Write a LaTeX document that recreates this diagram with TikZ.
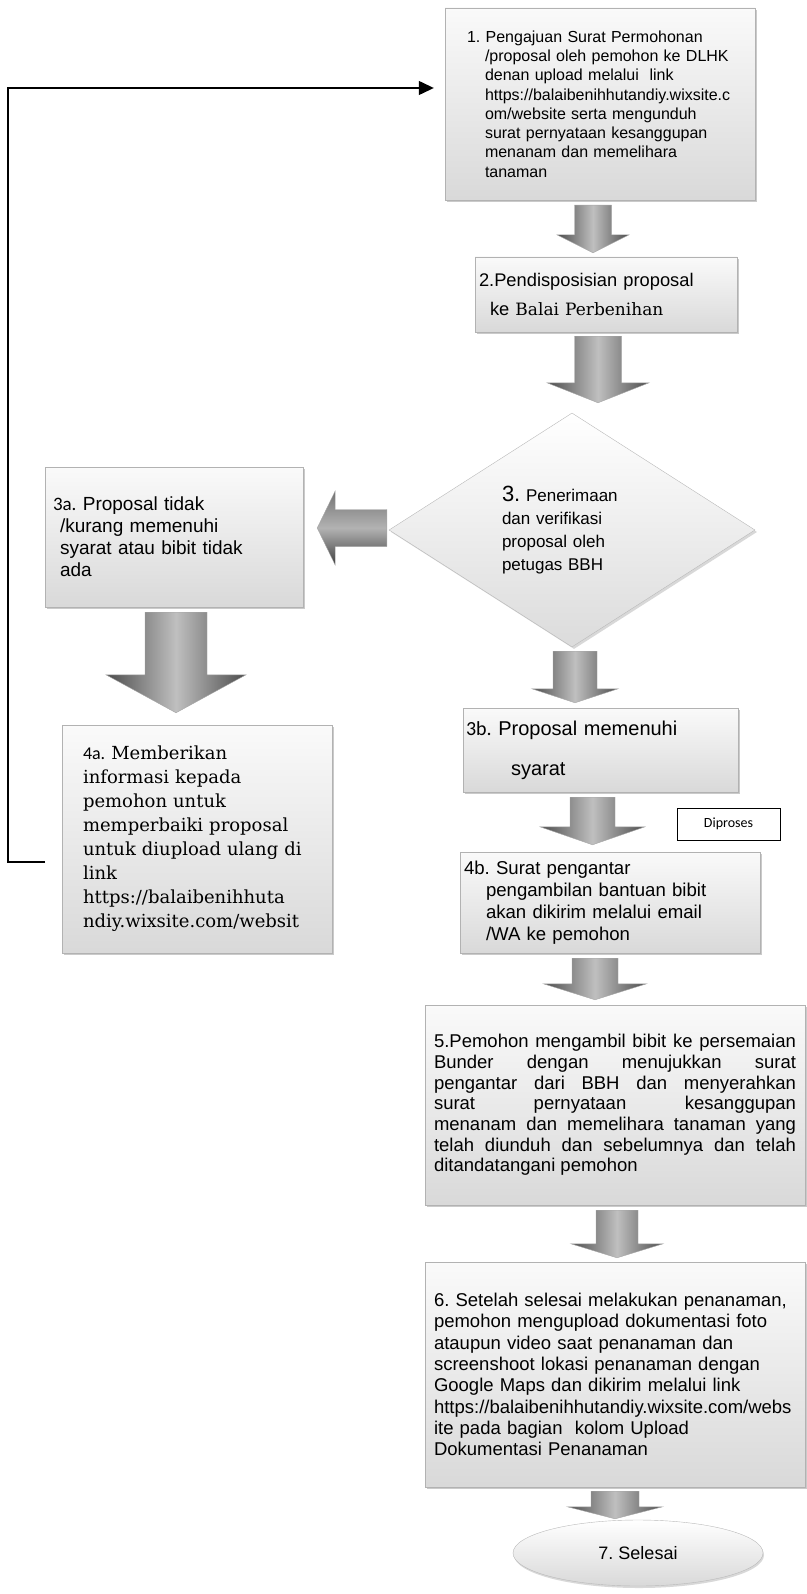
\documentclass[tikz,border=0pt]{standalone}
\usepackage{fontspec}
\setmainfont{Liberation Sans}
\newfontfamily\calibrif{Carlito}
\newfontfamily\bookf{DejaVu Serif}
\usetikzlibrary{shapes.geometric,shadows,calc,arrows.meta}
\frenchspacing

% thick shaded arrows between the boxes
\newcommand{\arrowdown}[5]{%
  \path[blockarrow] let \p1=(#1), \p2=(#2) in
    (\x1-#3/2,\y1) -- (\x1+#3/2,\y1) -- (\x1+#3/2,\y2+#5) -- (\x1+#4/2,\y2+#5)
    -- (\x1,\y2) -- (\x1-#4/2,\y2+#5) -- (\x1-#3/2,\y2+#5) -- cycle;}
\newcommand{\arrowleft}[5]{%
  \path[blockarrowh] let \p1=(#1), \p2=(#2) in
    (\x1,\y1+#3/2) -- (\x1,\y1-#3/2) -- (\x2+#5,\y1-#3/2) -- (\x2+#5,\y1-#4/2)
    -- (\x2,\y1) -- (\x2+#5,\y1+#4/2) -- (\x2+#5,\y1+#3/2) -- cycle;}
% justified text without hyphens
\newcommand{\justfont}{\fontsize{18.5pt}{20.7pt}\selectfont\tolerance=10000\relax\hyphenpenalty=10000\relax}

\begin{document}
\begin{tikzpicture}[x=1pt,y=-1pt,
    procbox/.style={rectangle, draw=gray!60, top color=gray!4, bottom color=gray!30,
      drop shadow={shadow xshift=2pt,shadow yshift=-2pt,fill=gray!70,opacity=.6},
      align=left, inner sep=0pt},
    decision/.style={diamond, draw=gray!55, top color=white, bottom color=gray!28,
      drop shadow={shadow xshift=2pt,shadow yshift=-2pt,fill=gray!60,opacity=.5},
      align=left, inner sep=0pt},
    endnode/.style={ellipse, draw=gray!55, top color=white, bottom color=gray!30,
      drop shadow={shadow xshift=1pt,shadow yshift=-2pt,fill=gray!60,opacity=.5},
      inner sep=0pt, font=\fontsize{18pt}{20pt}\selectfont},
    notebox/.style={rectangle, draw=black, line width=.8pt, fill=white, inner sep=0pt,
      font=\calibrif\fontsize{14pt}{16pt}\selectfont},
    blockarrow/.style={draw=gray!70, left color=black!70, right color=black!70, middle color=black!25},
    blockarrowh/.style={draw=gray!70, top color=black!55, bottom color=black!75, middle color=black!30},
    backline/.style={line width=1.3pt, -{Triangle[length=15pt,width=14pt]}, shorten >=11pt}]
  \useasboundingbox (0,0) rectangle (806,1594);

  \node[procbox, minimum width=310pt, minimum height=192pt, text width=266pt,
        font=\fontsize{16pt}{19.3pt}\selectfont] (b1) at (600,104)
    {1. Pengajuan Surat Permohonan\\
     \hspace*{18pt}/proposal oleh pemohon ke DLHK\\
     \hspace*{18pt}denan upload melalui\ \ link\\
     \hspace*{18pt}https://balaibenihhutandiy.wixsite.c\\
     \hspace*{18pt}om/website serta mengunduh\\
     \hspace*{18pt}surat pernyataan kesanggupan\\
     \hspace*{18pt}menanam dan memelihara\\
     \hspace*{18pt}tanaman};
  \node[procbox, minimum width=262pt, minimum height=75pt, text width=254pt,
        font=\fontsize{18.3pt}{29pt}\selectfont] (b2) at (606,294.5)
    {2.Pendisposisian proposal\\
     \hspace*{11pt}ke {\bookf\fontsize{17pt}{29pt}\selectfont Balai Perbenihan}};
  \node[decision, minimum width=366pt, minimum height=234pt, text width=140pt,
        font=\fontsize{17pt}{23pt}\selectfont] (d3) at (572,530)
    {{\fontsize{22pt}{23pt}\selectfont 3.} Penerimaan\\
     dan verifikasi\\
     proposal oleh\\
     petugas BBH};
  \node[procbox, minimum width=258pt, minimum height=140pt, text width=242pt,
        font=\fontsize{19pt}{22pt}\selectfont] (b3a) at (174,537)
    {{\calibrif 3a.} Proposal tidak\\
     \hspace*{7pt}/kurang memenuhi\\
     \hspace*{7pt}syarat atau bibit tidak\\
     \hspace*{7pt}ada};
  \node[procbox, minimum width=270pt, minimum height=228pt, text width=228pt,
        font=\bookf\fontsize{18pt}{24pt}\selectfont] (b4a) at (197,839)
    {{\calibrif 4a.} Memberikan\\
     informasi kepada\\
     pemohon untuk\\
     memperbaiki proposal\\
     untuk diupload ulang di\\
     link\\
     https://balaibenihhuta\\
     ndiy.wixsite.com/websit};
  \node[procbox, minimum width=275pt, minimum height=84pt, text width=269pt,
        font=\fontsize{20pt}{40pt}\selectfont] (b3b) at (600.5,750)
    {{\calibrif 3b.} Proposal memenuhi\\
     \hspace*{45pt}syarat};
  \node[notebox, minimum width=103pt, minimum height=32pt] (dip) at (728.5,824) {Diproses};
  \node[procbox, minimum width=300pt, minimum height=101pt, text width=292pt,
        font=\fontsize{18.6pt}{22pt}\selectfont] (b4b) at (610,902.5)
    {4b. Surat pengantar\\
     \hspace*{22pt}pengambilan bantuan bibit\\
     \hspace*{22pt}akan dikirim melalui email\\
     \hspace*{22pt}/WA ke pemohon};
  \node[procbox, align=justify, minimum width=380pt, minimum height=200pt, text width=362pt,
        font=\justfont] (b5) at (615,1105)
    {5.Pemohon mengambil bibit ke persemaian\linebreak
     Bunder dengan menujukkan surat\linebreak
     pengantar dari BBH dan menyerahkan\linebreak
     surat pernyataan kesanggupan\linebreak
     menanam dan memelihara tanaman yang\linebreak
     telah diunduh dan sebelumnya dan telah\linebreak
     ditandatangani pemohon};
  \node[procbox, minimum width=380pt, minimum height=225pt, text width=362pt,
        font=\fontsize{18.5pt}{21.3pt}\selectfont] (b6) at (615,1374.5)
    {6. Setelah selesai melakukan penanaman,\\
     pemohon mengupload dokumentasi foto\\
     ataupun video saat penanaman dan\\
     screenshoot lokasi penanaman dengan\\
     Google Maps dan dikirim melalui link\\
     https://balaibenihhutandiy.wixsite.com/webs\\
     ite pada bagian\ \ kolom Upload\\
     Dokumentasi Penanaman};
  \node[endnode, minimum width=250pt, minimum height=66pt] (e7) at (638,1553) {7. Selesai};

  % block arrows
  \arrowdown{$(b1.south)+(-7,5)$}{$(b2.north)+(0,-4)$}{37pt}{72pt}{18pt}
  \arrowdown{$(b2.south)+(-8,4)$}{$(d3.north)+(0,-10)$}{47pt}{102pt}{20pt}
  \arrowleft{$(d3.west)+(-2,-2)$}{$(b3a.east)+(14,0)$}{37pt}{74pt}{18pt}
  \arrowdown{$(b3a.south)+(2,5)$}{$(b4a.north)+(0,-12)$}{62pt}{140pt}{38pt}
  \arrowdown{$(d3.south)+(3,4)$}{$(b3b.north)+(0,-5)$}{44pt}{86pt}{14pt}
  \arrowdown{$(b3b.south)+(-8,5)$}{$(b4b.north)+(0,-7)$}{45pt}{105pt}{18pt}
  \arrowdown{$(b4b.south)+(-15,5)$}{$(b5.north)+(0,-5)$}{46pt}{103pt}{16pt}
  \arrowdown{$(b5.south)+(2,5)$}{$(b6.north)+(0,-4)$}{42pt}{92pt}{14pt}
  \arrowdown{$(b6.south)+(0,4)$}{$(e7.north)+(0,-1)$}{48pt}{95pt}{12pt}

  % back to step 1
  \coordinate (fbend) at (45,862);
  \coordinate (fbtop) at (8,88);
  \draw[backline] (fbend) -- (fbend -| fbtop) -- (fbtop) -- (fbtop -| b1.west);
\end{tikzpicture}
\end{document}
